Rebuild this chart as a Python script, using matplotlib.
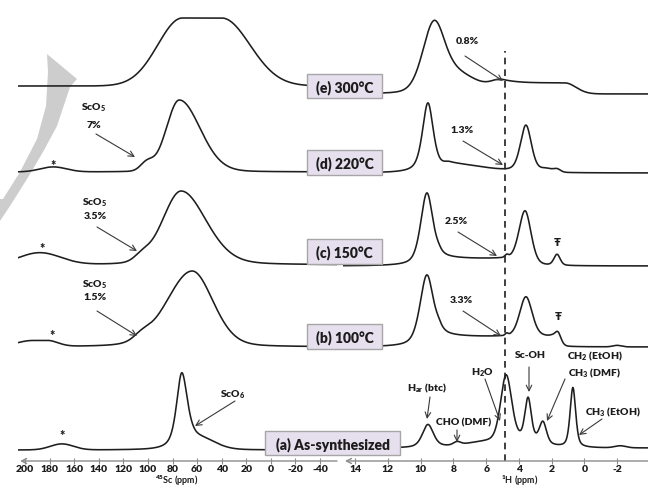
import numpy as np
import matplotlib
matplotlib.use("Agg")
import matplotlib.pyplot as plt
from matplotlib.patches import Polygon, FancyArrowPatch, Rectangle

plt.rcParams['font.family'] = ['Lato', 'DejaVu Sans']
plt.rcParams['font.weight'] = 'bold'
plt.rcParams['mathtext.fontset'] = 'custom'
plt.rcParams['mathtext.rm'] = 'Lato:heavy'
plt.rcParams['mathtext.it'] = 'Lato:heavy'
plt.rcParams['mathtext.bf'] = 'Lato:heavy'

# ---------------- data ----------------
labels = ['(a) As-synthesized', '(b) 100°C', '(c) 150°C', '(d) 220°C', '(e) 300°C']
sc_ticks = [200, 180, 160, 140, 120, 100, 80, 60, 40, 20, 0, -20, -40]
h_ticks = [14, 12, 10, 8, 6, 4, 2, 0, -2]

# peaks: (centre ppm, height, fwhm high-ppm side, fwhm low-ppm side, flat half-width, lorentz fraction)
sc_peaks_a = [(72.5, 72, 10, 11, 0, 0.6), (58, 10, 30, 30, 0, 0.0), (170, 6, 22, 22, 0, 0.0)]
sc_peaks_b = [(64, 76, 49, 40, 0, 0.2), (105, 5, 15, 15, 0, 0.0), (188, 6, 30, 20, 6, 0.0)]
sc_peaks_c = [(73, 74, 36, 48, 0, 0.2), (105, 5, 14, 14, 0, 0.0), (188, 12, 40, 40, 0, 0.0)]
sc_peaks_d = [(74.5, 72, 25, 40, 0, 0.1), (101, 8, 12, 12, 0, 0.0), (177, 5, 25, 25, 0, 0.0)]
sc_peaks_e = [(56, 68, 47, 54, 16, 0.0)]

h_peaks_a = [(9.56, 23, 0.8, 0.8, 0, 0.5), (7.78, 3, 0.5, 0.5, 0, 0.0), (5.6, 6, 4.0, 4.0, 0, 0.0),
             (4.78, 66, 0.8, 0.8, 0, 0.3), (3.3, 6, 2.0, 2.0, 0, 0.0), (3.44, 40, 0.45, 0.45, 0, 0.3),
             (2.53, 20, 0.5, 0.5, 0, 0.3), (0.70, 60, 0.4, 0.4, 0, 0.5), (-2.2, 2, 0.8, 0.8, 0, 0.0)]
h_peaks_b = [(9.62, 72, 1.0, 1.0, 0, 0.5), (5.45, 10, 0.6, 0.8, 3.35, 0.0), (4.75, 2, 0.2, 0.2, 0, 0.0),
             (3.57, 40, 0.9, 0.9, 0, 0.3), (1.61, 11, 0.45, 0.45, 0, 0.3), (-2.0, 1.5, 0.6, 0.6, 0, 0.0)]
h_peaks_c = [(9.62, 73, 0.9, 0.9, 0, 0.5), (6.2, 7, 0.6, 1.0, 2.6, 0.0), (4.75, 2.5, 0.25, 0.25, 0, 0.0),
             (3.63, 48, 0.85, 0.85, 0, 0.3), (1.67, 11, 0.45, 0.45, 0, 0.3)]
h_peaks_d = [(9.56, 70, 0.8, 0.8, 0, 0.6), (8.2, 8, 1.0, 5.0, 0, 0.0), (3.57, 47, 0.8, 0.8, 0, 0.4),
             (2.3, 3, 0.8, 0.8, 0, 0.0), (1.67, 3, 0.5, 0.5, 0, 0.0)]
h_peaks_e = [(9.25, 55, 1.6, 1.5, 0, 0.3), (8.6, 24, 2.0, 4.2, 0, 0.0), (3.1, 11, 1.5, 1.6, 1.9, 0.0)]

sc_spectra = [sc_peaks_a, sc_peaks_b, sc_peaks_c, sc_peaks_d, sc_peaks_e]
h_spectra = [h_peaks_a, h_peaks_b, h_peaks_c, h_peaks_d, h_peaks_e]

# ---------------- layout ----------------
W, H = 648, 489
sc_offsets = [11, 114, 196, 289, 375]
h_offsets = [13, 114, 195, 288, 367]
water_ppm = 4.85
LINE = '#1e1e1e'
TXT = '#1c1c1c'


def F(x, y):
    return (x / W, 1 - y / H)


def lineshape(x, peaks):
    y = np.zeros_like(x)
    for c, h, whi, wlo, flat, eta in peaks:
        d = x - c
        d = np.sign(d) * np.maximum(np.abs(d) - flat, 0)
        w = np.where(d > 0, whi, wlo)
        u = d / w
        g = np.exp(-4 * np.log(2) * u ** 2)
        lo = 1 / (1 + 4 * u ** 2)
        y = y + h * (eta * lo + (1 - eta) * g)
    return y


fig = plt.figure(figsize=(W / 100, H / 100), dpi=100)

# big grey curved arrow (decoration)
arrow_pts = [(47, 55), (77, 80), (70, 88), (66, 100), (57, 127), (43, 153), (27, 180), (10, 207),
             (0, 222), (0, 200), (3, 200), (20, 173), (37, 140), (46, 107), (48, 73)]
fig.add_artist(Polygon([F(x, y) for x, y in arrow_pts], closed=True, transform=fig.transFigure,
                       facecolor='#cdcdcd', edgecolor='none', zorder=-2))

axL = fig.add_axes([18 / W, 27 / H, (337 - 18) / W, 462 / H])
axR = fig.add_axes([343 / W, 27 / H, (648 - 343) / W, 462 / H])

sc_x = np.linspace(206, -54, 2000)
h_x = np.linspace(14.8, -3.9, 3000)
for off, pk in zip(sc_offsets, sc_spectra):
    axL.plot(sc_x, off + lineshape(sc_x, pk), color=LINE, lw=1.15)
for off, pk in zip(h_offsets, h_spectra):
    axR.plot(h_x, off + lineshape(h_x, pk), color=LINE, lw=1.15)

axR.plot([water_ppm, water_ppm], [0, 410], color=LINE, lw=1.2, ls=(0, (4, 3)))

axL.set_xlim(205.7, -53.8)
axR.set_xlim(14.75, -3.89)
for ax, ticks, tip in [(axL, sc_ticks, 204), (axR, h_ticks, 14.63)]:
    ax.set_ylim(0, 462)
    ax.patch.set_alpha(0)
    for s in ['top', 'right', 'left', 'bottom']:
        ax.spines[s].set_visible(False)
    ax.set_yticks([])
    ax.set_xticks(ticks)
    ax.set_xticklabels([str(t) for t in ticks], fontsize=7.5, fontweight='heavy', color=TXT)
    ax.tick_params(axis='x', direction='inout', length=4, width=0.8, color='#8c8c8c', pad=0.5)
    ax.annotate('', xy=(tip, 0), xytext=(ax.get_xlim()[1], 0), xycoords=ax.get_xaxis_transform(),
                arrowprops=dict(arrowstyle='->', color='#8c8c8c', lw=1.0, shrinkA=0, shrinkB=0,
                                mutation_scale=9))

fig.text(*F(177, 484), '$^{45}$Sc (ppm)', ha='center', va='baseline', fontsize=6.5, color=TXT)
fig.text(*F(520, 484), '$^{1}$H (ppm)', ha='center', va='baseline', fontsize=6.5, color=TXT)

# sample label boxes
boxes = [(265, 432, 135, 24), (307, 325, 75, 25), (307, 240, 75, 25), (307, 151, 75, 25), (307, 75, 75, 24)]
for (x0, y0, bw, bh), lab in zip(boxes, labels):
    fig.add_artist(Rectangle(F(x0, y0 + bh), bw / W, bh / H, transform=fig.transFigure,
                             facecolor='#e6e0ee', edgecolor='#a6a6a6', lw=1.0, zorder=5))
    fig.text(*F(x0 + bw / 2, y0 + bh / 2 + 0.5), lab, ha='center', va='center', fontsize=10,
             fontweight='heavy', color=TXT, zorder=6)


def note(txt, xy, size=7.5, ha='center'):
    fig.text(*F(*xy), txt, ha=ha, va='center', fontsize=size, fontweight='heavy', color=TXT, zorder=7)


def arrow(p0, p1):
    fig.add_artist(FancyArrowPatch(F(*p0), F(*p1), transform=fig.transFigure,
                                   arrowstyle='->,head_length=4,head_width=2', color='#3a3a3a',
                                   lw=0.8, shrinkA=0, shrinkB=0, zorder=7))


# 45Sc annotations
note('ScO$_5$', (94, 108)); note('7%', (94, 125))
arrow((96, 135), (135, 158))
note('ScO$_5$', (95, 203)); note('3.5%', (95, 217))
arrow((97, 228), (137, 252))
note('ScO$_5$', (95, 285)); note('1.5%', (95, 298))
arrow((97, 312), (137, 337))
note('ScO$_6$', (233, 395))
arrow((235, 402), (195, 427))
for sx, sy in [(62, 433), (52, 333), (42, 246), (53, 163)]:
    note('*', (sx, sy + 3), size=9)

# 1H annotations
note('0.8%', (467, 42)); arrow((465, 57), (503, 82))
note('1.3%', (462, 131)); arrow((463, 142), (503, 166))
note('2.5%', (456, 222)); arrow((458, 233), (497, 257))
note('3.3%', (461, 301)); arrow((463, 312), (501, 337))
note('Ŧ', (557, 243), size=8); note('Ŧ', (558, 317), size=8)
note('H$_{\\mathrm{ar}}$ (btc)', (427, 388)); arrow((430, 398), (427, 420))
note('CHO (DMF)', (464, 423)); arrow((457, 431), (457, 443))
note('H$_2$O', (482, 373)); arrow((485, 380), (500, 422))
note('Sc-OH', (530, 356)); arrow((529, 368), (529, 393))
note('CH$_2$ (EtOH)', (595, 356)); note('CH$_3$ (DMF)', (595, 373))
arrow((565, 380), (547, 422))
note('CH$_3$ (EtOH)', (613, 412)); arrow((602, 420), (579, 436))

fig.savefig('out.png', dpi=100)
